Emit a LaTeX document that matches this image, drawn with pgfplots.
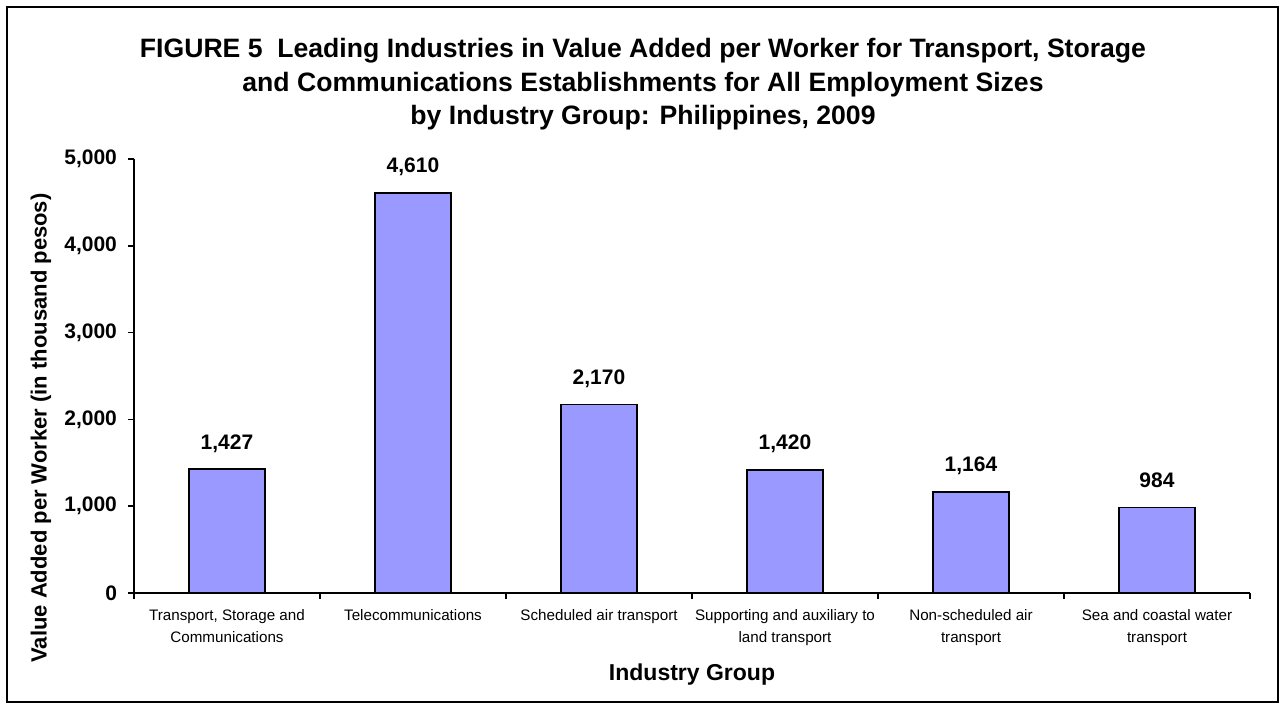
\documentclass[border=0pt]{standalone}
\usepackage{fontspec}
\setmainfont{Liberation Sans}
\usepackage{pgfplots}
\pgfplotsset{compat=1.18}
\definecolor{barblue}{HTML}{9999FF}
\begin{document}
\begin{tikzpicture}
\useasboundingbox (-67pt,-58pt) rectangle (573pt,296.5pt);
\draw[line width=1pt] (-63.5pt,-54.5pt) rectangle (572pt,293pt);
\begin{axis}[
  at={(0pt,0pt)}, anchor=south west,
  scale only axis, width=558pt, height=217pt,
  xmin=-0.5, xmax=5.5, ymin=0, ymax=5000,
  axis x line=bottom, axis y line=left,
  axis line style={-, line width=1pt},
  tick align=outside,
  major tick length=3pt,
  every tick/.style={black, line width=0.8pt},
  xtick={-0.5,0.5,...,5.5},
  xticklabels={},
  extra x ticks={0,1,2,3,4,5},
  extra x tick labels={{Transport, Storage and\\Communications},{Telecommunications},{Scheduled air transport},{Supporting and auxiliary to\\land transport},{Non-scheduled air\\transport},{Sea and coastal water\\transport}},
  extra x tick style={major tick length=0pt, tick label style={font=\fontsize{7.6}{11}\selectfont, align=center, anchor=north, yshift=-4.5pt}},
  ytick={0,1000,2000,3000,4000,5000},
  scaled y ticks=false,
  yticklabel style={font=\fontsize{10.5}{12}\selectfont\bfseries, xshift=-2pt, /pgf/number format/1000 sep={,}, /pgf/number format/assume math mode=true},
  ybar,
  nodes near coords,
  nodes near coords style={font=\fontsize{10.5}{12}\selectfont\bfseries, /pgf/number format/1000 sep={,}, /pgf/number format/assume math mode=true, anchor=base, yshift=10pt},
  clip=false,
]
\addplot[ybar, bar width=38pt, fill=barblue, draw=black, line width=0.75pt] coordinates {(0,1427) (1,4610) (2,2170) (3,1420) (4,1164) (5,984)};
\end{axis}
\node[anchor=base, font=\fontsize{13.3}{15}\selectfont\bfseries] at (254.5pt,268pt) {FIGURE 5\ \ Leading Industries in Value Added per Worker for Transport, Storage};
\node[anchor=base, font=\fontsize{13.3}{15}\selectfont\bfseries] at (254.5pt,251pt) {and Communications Establishments for All Employment Sizes};
\node[anchor=base, font=\fontsize{13.3}{15}\selectfont\bfseries] at (254.5pt,234.5pt) {by Industry Group: Philippines, 2009};
\node[rotate=90, font=\fontsize{11}{13}\selectfont\bfseries] at (-46.5pt,82.5pt) {Value Added per Worker (in thousand pesos)};
\node[anchor=base, font=\fontsize{11.5}{13}\selectfont\bfseries] at (279pt,-43.5pt) {Industry Group};
\end{tikzpicture}
\end{document}
